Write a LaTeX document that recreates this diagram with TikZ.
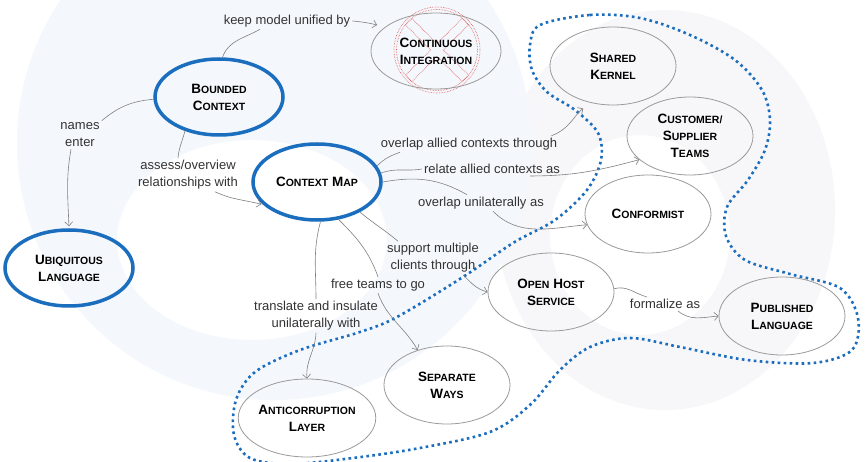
\documentclass[tikz,border=0pt]{standalone}
\usepackage{fontspec}
\setmainfont{Liberation Sans}
\usetikzlibrary{arrows.meta,shapes.geometric}
\definecolor{ddblue}{HTML}{1B6DBE}
\definecolor{ddgrey}{HTML}{9A9A9A}
\definecolor{ddred}{HTML}{D9534F}
\definecolor{wmblue}{HTML}{F4F7FC}
\definecolor{wmgrey}{HTML}{F7F6F8}
\newcommand\smcp[2]{#1{\fontsize{10.5}{17}\selectfont #2}}
\tikzset{
  concept/.style={ellipse, draw=ddgrey, line width=0.8pt, minimum width=126pt, minimum height=78pt,
    inner sep=0pt, align=center, font=\bfseries\fontsize{13.5}{17}\selectfont},
  core/.style={concept, draw=ddblue, line width=3.5pt, minimum width=128pt, minimum height=76pt},
  rel/.style={align=center, inner sep=2pt, text=black!80, font=\fontsize{13}{17}\selectfont},
  link/.style={draw=black!50, line width=0.6pt},
  arr/.style={link, -{Straight Barb[length=4pt,width=8pt]}},
  blob/.style={draw=ddblue, line width=2.6pt, dash pattern=on 2.6pt off 3.4pt},
  cidot/.style={draw=ddred, line width=0.6pt, densely dotted}
}
\begin{document}
\begin{tikzpicture}[x=1pt,y=1pt]
  \fill[white] (0,0) rectangle (865,-462);
  \useasboundingbox (0,0) rectangle (865,-462);
  \fill[wmgrey, even odd rule] (665,-210) ellipse (170pt and 200pt) (640,-235) ellipse (90pt and 100pt);
  \fill[wmblue, even odd rule] (274,-143) ellipse (257pt and 257pt) (252,-240) ellipse (135pt and 100pt);
  \draw[blob] plot[smooth cycle, tension=0.55] coordinates {
    (540,-25) (590,-15) (640,-18) (690,-35) (735,-60) (762,-90) (770,-120) (765,-150)
    (748,-180) (727,-207) (726,-236) (745,-260) (790,-274) (840,-288) (858,-318)
    (852,-350) (813,-363) (747,-360) (680,-347) (630,-338) (590,-347) (560,-370)
    (530,-405) (490,-432) (420,-448) (353,-458) (290,-464) (250,-458) (234,-435)
    (236,-400) (255,-372) (300,-350) (360,-332) (397,-317) (463,-277) (513,-243)
    (555,-220) (587,-190) (601,-160) (598,-133) (575,-110) (547,-92) (532,-70) (530,-45)};
  \coordinate (cic) at (437,-50);
  \draw[cidot] (cic) circle (43pt) (cic) circle (40.5pt);
  \begin{scope}[shift={(cic)},rotate=45]
    \draw[cidot] (4.5,4.5) -- (40,4.5) -- (40,-4.5) -- (4.5,-4.5) -- (4.5,-40) -- (-4.5,-40)
      -- (-4.5,-4.5) -- (-40,-4.5) -- (-40,4.5) -- (-4.5,4.5) -- (-4.5,40) -- (4.5,40) -- cycle;
  \end{scope}
  \draw
    (219,-97) node[core] (bc) {\smcp{B}{OUNDED}\\\smcp{C}{ONTEXT}}
    (317,-182) node[core] (cm) {\smcp{C}{ONTEXT} \smcp{M}{AP}}
    (69,-268) node[core] (ul) {\smcp{U}{BIQUITOUS}\\\smcp{L}{ANGUAGE}}
    (436,-51) node[concept, minimum width=130pt, minimum height=76pt] (ci) {\smcp{C}{ONTINUOUS}\\\smcp{I}{NTEGRATION}}
    (613,-66) node[concept] (sk) {\smcp{S}{HARED}\\\smcp{K}{ERNEL}}
    (690,-136) node[concept] (cst) {\smcp{C}{USTOMER/}\\\smcp{S}{UPPLIER}\\\smcp{T}{EAMS}}
    (648,-214) node[concept] (conf) {\smcp{C}{ONFORMIST}}
    (551,-292) node[concept] (ohs) {\smcp{O}{PEN} \smcp{H}{OST}\\\smcp{S}{ERVICE}}
    (782,-316) node[concept] (pl) {\smcp{P}{UBLISHED}\\\smcp{L}{ANGUAGE}}
    (447,-385) node[concept] (sw) {\smcp{S}{EPARATE}\\\smcp{W}{AYS}}
    (307,-418) node[concept, minimum width=136pt] (acl) {\smcp{A}{NTICORRUPTION}\\\smcp{L}{AYER}};
  \draw
    (287,-21) node[rel] (keep) {keep model unified by}
    (80,-135) node[rel] (names) {names\\enter}
    (188,-175) node[rel] (assess) {assess/overview\\relationships with}
    (469,-144) node[rel] (allied) {overlap allied contexts through}
    (492,-169) node[rel] (relate) {relate allied contexts as}
    (481,-203) node[rel] (unilat) {overlap unilaterally as}
    (433,-258) node[rel] (support) {support multiple\\clients through}
    (378,-285) node[rel] (free) {free teams to go}
    (316,-316) node[rel] (translate) {translate and insulate\\unilaterally with}
    (665,-304) node[rel] (formalize) {formalize as};
  \begin{scope}[link]
    \draw (bc.85) to[out=70,in=210] ([xshift=-27pt]keep.south);
    \draw[arr,shorten >=8pt] (keep.east) to[out=-5,in=165] (ci.155);
    \draw (bc.182) to[out=185,in=40] (names.north east);
    \draw[arr,shorten >=2pt] ([xshift=-9pt]names.south) to[out=260,in=92] (ul.north);
    \draw (bc.225) to[out=255,in=85] ([xshift=-10pt]assess.north);
    \draw[arr,shorten >=2pt] ([xshift=27pt]assess.south) to[out=-25,in=165] (cm.203);
    \draw (cm.15) to[out=45,in=200] ([xshift=-69pt]allied.south);
    \draw[arr,shorten >=10pt] ([xshift=-8pt]allied.north east) to[out=20,in=213] (sk.240);
    \draw (cm.8) to[out=20,in=190] (relate.west);
    \draw[arr] ([xshift=38pt]relate.south) to[out=0,in=195] (cst.205);
    \draw (cm.0) to[out=10,in=150] ([xshift=-14pt]unilat.north);
    \draw[arr] ([xshift=12pt]unilat.south) to[out=-45,in=185] (conf.190);
    \draw (cm.325) to[out=-40,in=140] ([xshift=-35pt]support.north);
    \draw[arr] ([xshift=30pt]support.south) to[out=-45,in=165] (ohs.180);
    \draw (cm.300) to[out=-45,in=110] (free.north);
    \draw[arr] (free.south) to[out=-70,in=120] (sw.130);
    \draw (cm.275) to[out=255,in=90] (translate.north);
    \draw[arr] (translate.south) to[out=268,in=95] (acl.north);
    \draw (ohs.3) to[out=15,in=164] ([xshift=-18pt]formalize.north);
    \draw[arr] ([xshift=13pt]formalize.south) to[out=-40,in=185] (pl.west);
  \end{scope}
\end{tikzpicture}
\end{document}
